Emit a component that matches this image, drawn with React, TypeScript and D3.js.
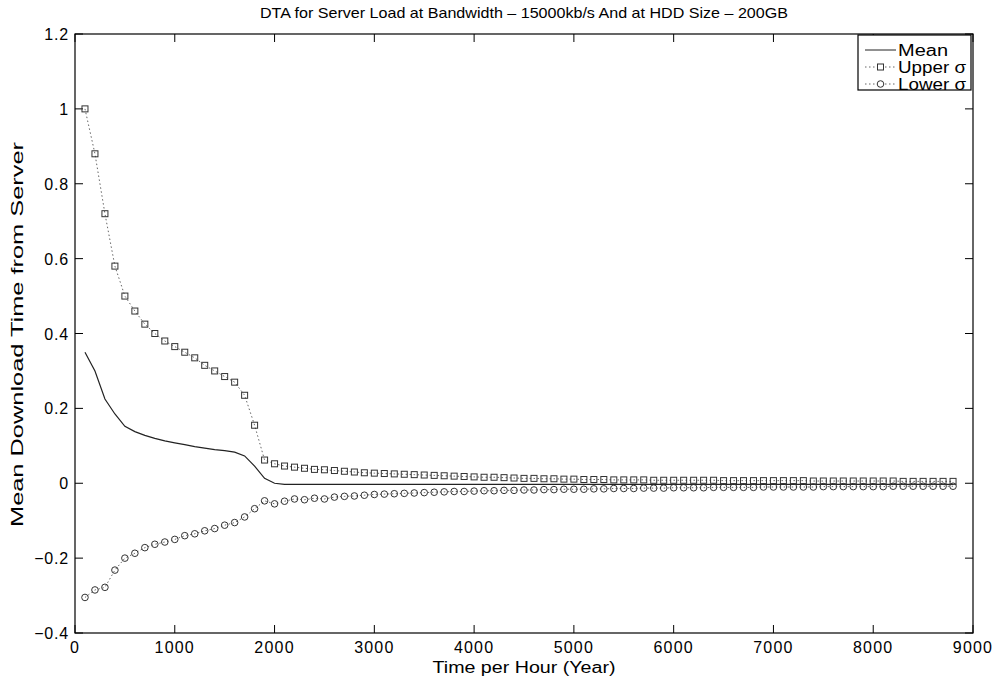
import React from "react";
import * as d3 from "d3";

const xValues = [100,200,300,400,500,600,700,800,900,1000,1100,1200,1300,1400,1500,1600,1700,1800,1900,2000,2100,2200,2300,2400,2500,2600,2700,2800,2900,3000,3100,3200,3300,3400,3500,3600,3700,3800,3900,4000,4100,4200,4300,4400,4500,4600,4700,4800,4900,5000,5100,5200,5300,5400,5500,5600,5700,5800,5900,6000,6100,6200,6300,6400,6500,6600,6700,6800,6900,7000,7100,7200,7300,7400,7500,7600,7700,7800,7900,8000,8100,8200,8300,8400,8500,8600,8700,8800];

const meanValues = [0.35,0.30,0.225,0.185,0.152,0.138,0.128,0.12,0.113,0.108,0.103,0.098,0.094,0.09,0.087,0.083,0.073,0.046,0.013,0.0,-0.003,-0.003,-0.003,-0.003,-0.003,-0.003,-0.003,-0.003,-0.003,-0.003,-0.003,-0.003,-0.003,-0.003,-0.003,-0.003,-0.003,-0.003,-0.003,-0.003,-0.003,-0.003,-0.003,-0.003,-0.003,-0.003,-0.003,-0.003,-0.003,-0.003,-0.003,-0.003,-0.003,-0.003,-0.003,-0.003,-0.003,-0.003,-0.003,-0.003,-0.003,-0.003,-0.003,-0.003,-0.003,-0.003,-0.003,-0.003,-0.003,-0.003,-0.003,-0.003,-0.003,-0.003,-0.003,-0.003,-0.003,-0.003,-0.003,-0.003,-0.003,-0.003,-0.003,-0.003,-0.003,-0.003,-0.003,-0.003];

const upperValues = [1.0,0.88,0.72,0.58,0.5,0.46,0.425,0.4,0.38,0.365,0.35,0.335,0.315,0.3,0.285,0.27,0.235,0.155,0.062,0.052,0.046,0.043,0.04,0.037,0.036,0.034,0.032,0.03,0.028,0.027,0.026,0.025,0.024,0.023,0.022,0.021,0.02,0.019,0.018,0.017,0.016,0.016,0.015,0.014,0.013,0.013,0.012,0.012,0.011,0.011,0.01,0.01,0.01,0.009,0.009,0.009,0.009,0.008,0.008,0.008,0.008,0.008,0.008,0.008,0.007,0.007,0.007,0.007,0.007,0.007,0.007,0.007,0.007,0.006,0.006,0.006,0.006,0.006,0.006,0.006,0.006,0.006,0.005,0.005,0.005,0.005,0.005,0.005];

const lowerValues = [-0.305,-0.285,-0.278,-0.232,-0.2,-0.187,-0.172,-0.163,-0.157,-0.15,-0.14,-0.135,-0.127,-0.121,-0.112,-0.105,-0.09,-0.068,-0.047,-0.055,-0.048,-0.042,-0.044,-0.04,-0.042,-0.037,-0.035,-0.034,-0.032,-0.03,-0.029,-0.028,-0.027,-0.026,-0.025,-0.024,-0.023,-0.022,-0.022,-0.021,-0.02,-0.02,-0.019,-0.019,-0.018,-0.018,-0.017,-0.017,-0.016,-0.016,-0.016,-0.015,-0.015,-0.014,-0.014,-0.014,-0.013,-0.013,-0.013,-0.012,-0.012,-0.012,-0.012,-0.011,-0.011,-0.011,-0.011,-0.011,-0.01,-0.01,-0.01,-0.01,-0.01,-0.01,-0.009,-0.009,-0.009,-0.009,-0.009,-0.009,-0.009,-0.008,-0.008,-0.008,-0.008,-0.008,-0.008,-0.008];

const xTicks = [0,1000,2000,3000,4000,5000,6000,7000,8000,9000];
const yTicks = [1.2,1,0.8,0.6,0.4,0.2,0,-0.2,-0.4];
const legendLabels = ["Mean", "Upper σ", "Lower σ"];

const W = 1005, H = 684;
const L = 75, R = 973, T = 34, B = 633;
const FONT = "'Liberation Sans', Arial, Helvetica, sans-serif";

export default function App() {
  const x = d3.scaleLinear().domain([0, 9000]).range([L, R]);
  const y = d3.scaleLinear().domain([-0.4, 1.2]).range([B, T]);
  const line = d3.line<[number, number]>().x(d => x(d[0])).y(d => y(d[1]));
  const meanPts = xValues.map((v, i) => [v, meanValues[i]] as [number, number]);
  const upPts = xValues.map((v, i) => [v, upperValues[i]] as [number, number]);
  const loPts = xValues.map((v, i) => [v, lowerValues[i]] as [number, number]);
  const fmtY = (v: number) => (v < 0 ? "\u2212" : "") + String(Math.abs(v));
  const tick = 8;
  const lgL = 858, lgT = 35, lgR = 971, lgB = 90;
  const rowY = [50, 67, 84];
  const mcol = "#333";

  return (
    <svg width={W} height={H} style={{ position: "absolute", left: 0, top: 0, background: "#fff" }} fontFamily={FONT}>
      <rect x={0} y={0} width={W} height={H} fill="#fff" />
      <rect x={L} y={T} width={R - L} height={B - T} fill="none" stroke="#000" strokeWidth={1.2} />
      {xTicks.map(t => (
        <g key={"xt" + t}>
          <line x1={x(t)} x2={x(t)} y1={B} y2={B - tick} stroke="#000" />
          <line x1={x(t)} x2={x(t)} y1={T} y2={T + tick} stroke="#000" />
          <text x={x(t)} y={B + 20} textAnchor="middle" fontSize={16} letterSpacing={1.2}>{t}</text>
        </g>
      ))}
      {yTicks.map(t => (
        <g key={"yt" + t}>
          <line x1={L} x2={L + tick} y1={y(t)} y2={y(t)} stroke="#000" />
          <line x1={R} x2={R - tick} y1={y(t)} y2={y(t)} stroke="#000" />
          <text x={L - 6} y={y(t) + 6} textAnchor="end" fontSize={16} letterSpacing={0.8}>{fmtY(t)}</text>
        </g>
      ))}
      <path d={line(upPts) || ""} fill="none" stroke="#666" strokeWidth={1} strokeDasharray="1.5,2.5" />
      <path d={line(loPts) || ""} fill="none" stroke="#666" strokeWidth={1} strokeDasharray="1.5,2.5" />
      <path d={line(meanPts) || ""} fill="none" stroke="#222" strokeWidth={1.2} />
      {upPts.map((p, i) => (
        <rect key={"u" + i} x={x(p[0]) - 3} y={y(p[1]) - 3} width={6} height={6} fill="none" stroke={mcol} strokeWidth={1} />
      ))}
      {loPts.map((p, i) => (
        <circle key={"l" + i} cx={x(p[0])} cy={y(p[1])} r={3.3} fill="none" stroke={mcol} strokeWidth={1} />
      ))}
      <text x={(L + R) / 2} y={18} textAnchor="middle" fontSize={15} textLength={528} lengthAdjust="spacingAndGlyphs">DTA for Server Load at Bandwidth – 15000kb/s And at HDD Size – 200GB</text>
      <text x={(L + R) / 2} y={673} textAnchor="middle" fontSize={16} textLength={183} lengthAdjust="spacingAndGlyphs">Time per Hour (Year)</text>
      <text transform={`translate(23,${(142 + 527) / 2}) rotate(-90)`} textAnchor="middle" fontSize={16} textLength={385} lengthAdjust="spacingAndGlyphs">Mean Download Time from Server</text>
      <rect x={lgL} y={lgT} width={lgR - lgL} height={lgB - lgT} fill="#fff" stroke="#000" strokeWidth={1.2} />
      {legendLabels.map((lab, i) => (
        <g key={lab}>
          <line x1={865} x2={896} y1={rowY[i]} y2={rowY[i]} stroke={i === 0 ? "#222" : "#666"} strokeDasharray={i === 0 ? undefined : "1.5,2.5"} />
          {i === 1 && <rect x={877.5} y={rowY[i] - 3} width={6} height={6} fill="#fff" stroke={mcol} />}
          {i === 2 && <circle cx={880.5} cy={rowY[i]} r={3.3} fill="#fff" stroke={mcol} />}
          <text x={898} y={rowY[i] + 5.5} fontSize={16} textLength={lab === "Mean" ? 50 : 68} lengthAdjust="spacingAndGlyphs">{lab}</text>
        </g>
      ))}
    </svg>
  );
}
